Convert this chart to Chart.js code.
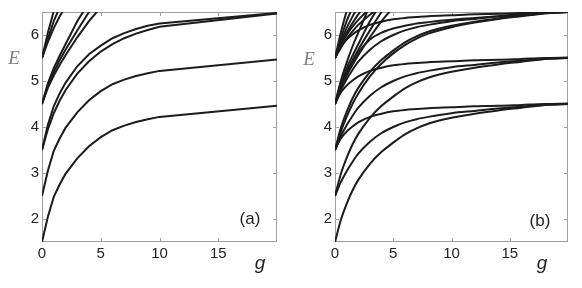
<!DOCTYPE html>
<html><head><meta charset="utf-8">
<script src="https://cdn.jsdelivr.net/npm/chart.js@4.4.1/dist/chart.umd.min.js"></script>
<style>
html,body{margin:0;padding:0;background:#fff;}
#wrap{position:relative;width:582px;height:288px;overflow:hidden;}
canvas{position:absolute;top:0;}
#ca{left:0;} #cb{left:290px;}
</style></head><body>
<div id="wrap"><canvas id="ca" width="290" height="288"></canvas><canvas id="cb" width="292" height="288"></canvas></div>
<script>
// ---- tick labels ----
const xTickValues = [0, 5, 10, 15];
const yTickValues = [2, 3, 4, 5, 6];

// ---- panel (a): g grid and energy levels ----
const gA = [0, 0.5, 1, 1.5, 2, 3, 4, 5, 6, 7, 8, 9, 10, 20];
const a1 = [1.5, 2.05, 2.48, 2.75, 2.98, 3.32, 3.58, 3.78, 3.93, 4.03, 4.11, 4.17, 4.22, 4.46];
const a2 = [2.5, 3.05, 3.48, 3.75, 3.98, 4.32, 4.58, 4.78, 4.93, 5.03, 5.11, 5.17, 5.22, 5.47];
const a3 = [3.5, 4.05, 4.45, 4.73, 4.96, 5.32, 5.58, 5.77, 5.93, 6.04, 6.13, 6.2, 6.25, 6.48];
const a4 = [3.5, 3.95, 4.3, 4.57, 4.8, 5.16, 5.43, 5.64, 5.8, 5.93, 6.03, 6.11, 6.18, 6.47];
const a5 = [4.5, 4.95, 5.28, 5.55, 5.8, 6.3, 6.7];
const a6 = [4.5, 4.9, 5.2, 5.45, 5.68, 6.1, 6.5, 6.8];
const a7 = [4.5, 4.85, 5.12, 5.35, 5.56, 5.95, 6.3, 6.6];
const a8 = [5.5, 6.05, 6.52, 6.9];
const a9 = [5.5, 5.92, 6.3, 6.6];
const a10 = [5.5, 5.85, 6.15, 6.4, 6.62];

// ---- panel (b): g grid and energy levels ----
const gB = [0, 0.5, 1, 1.5, 2, 3, 4, 5, 6, 7, 8, 10, 12, 14, 16, 18, 20];
const bA1 = [1.5, 1.98, 2.33, 2.62, 2.85, 3.2, 3.46, 3.66, 3.84, 3.97, 4.07, 4.2, 4.29, 4.36, 4.42, 4.48, 4.5];
const bA2 = [2.5, 2.8, 3.04, 3.24, 3.42, 3.68, 3.87, 4.0, 4.1, 4.17, 4.22, 4.3, 4.35, 4.4, 4.44, 4.48, 4.5];
const bA3 = [3.5, 3.75, 3.9, 4.01, 4.1, 4.22, 4.29, 4.34, 4.37, 4.39, 4.41, 4.43, 4.45, 4.46, 4.48, 4.5, 4.51];
const bB1 = [2.5, 2.98, 3.33, 3.62, 3.85, 4.2, 4.46, 4.66, 4.84, 4.97, 5.07, 5.2, 5.29, 5.36, 5.42, 5.48, 5.5];
const bB2 = [3.5, 3.8, 4.04, 4.24, 4.42, 4.68, 4.87, 5.0, 5.1, 5.17, 5.22, 5.3, 5.35, 5.4, 5.44, 5.48, 5.5];
const bB3 = [4.5, 4.75, 4.9, 5.01, 5.1, 5.22, 5.29, 5.34, 5.37, 5.39, 5.41, 5.43, 5.45, 5.46, 5.48, 5.5, 5.51];
const bC1 = [3.5, 3.98, 4.33, 4.62, 4.85, 5.2, 5.46, 5.66, 5.84, 5.97, 6.07, 6.2, 6.29, 6.36, 6.42, 6.48, 6.5];
const bC2 = [4.5, 4.8, 5.04, 5.24, 5.42, 5.68, 5.87, 6.0, 6.1, 6.17, 6.22, 6.3, 6.35, 6.4, 6.44, 6.48, 6.5];
const bC3 = [5.5, 5.75, 5.9, 6.01, 6.1, 6.22, 6.29, 6.34, 6.37, 6.39, 6.41, 6.43, 6.45, 6.46, 6.48, 6.5, 6.51];
const bC4 = [3.5, 3.9, 4.22, 4.5, 4.73, 5.1, 5.38, 5.6, 5.78, 5.92, 6.03, 6.17, 6.27, 6.35, 6.41, 6.47, 6.5];
const bC5 = [4.5, 4.88, 5.18, 5.42, 5.62, 5.9, 6.05, 6.14, 6.2, 6.25, 6.28, 6.33, 6.37, 6.41, 6.45, 6.48, 6.5];
const bD1 = [4.5, 4.95, 5.28, 5.55, 5.8, 6.3, 6.7];
const bD2 = [4.5, 4.9, 5.2, 5.45, 5.68, 6.1, 6.5, 6.8];
const bD3 = [4.5, 4.85, 5.12, 5.35, 5.56, 5.95, 6.3, 6.6];
const bD4 = [4.5, 5.0, 5.4, 5.75, 6.05, 6.65];
const bE1 = [5.5, 6.05, 6.52, 6.9];
const bE2 = [5.5, 5.92, 6.3, 6.6];
const bE3 = [5.5, 5.85, 6.15, 6.4, 6.62];
const bE4 = [5.5, 5.8, 6.05, 6.26, 6.45, 6.75];
const bE5 = [5.5, 5.78, 6.0, 6.18, 6.33, 6.58];
const bE6 = [5.5, 5.72, 5.92, 6.08, 6.22, 6.44, 6.62];

const seriesA = [a1, a2, a3, a4, a5, a6, a7, a8, a9, a10];
const seriesB = [bA1, bA2, bA3, bB1, bB2, bB3, bC1, bC2, bC3, bC4, bC5,
                 bD1, bD2, bD3, bD4, bE1, bE2, bE3, bE4, bE5, bE6];

const frame = {
  id: 'frame',
  beforeDatasetsDraw(chart) {
    const {ctx, chartArea: a, scales: {x, y}} = chart;
    ctx.save();
    ctx.strokeStyle = '#a0a0a0';
    ctx.lineWidth = 1;
    ctx.strokeRect(a.left + 0.5, a.top + 0.5, a.right - a.left - 1, a.bottom - a.top - 1);
    ctx.beginPath();
    yTickValues.forEach(v => {
      const py = Math.round(y.getPixelForValue(v)) + 0.5;
      ctx.moveTo(a.left, py); ctx.lineTo(a.left + 4, py);
      ctx.moveTo(a.right, py); ctx.lineTo(a.right - 4, py);
    });
    xTickValues.slice(1).forEach(v => {
      const px = Math.round(x.getPixelForValue(v)) + 0.5;
      ctx.moveTo(px, a.bottom); ctx.lineTo(px, a.bottom - 4);
      ctx.moveTo(px, a.top); ctx.lineTo(px, a.top + 4);
    });
    ctx.stroke();
    ctx.restore();
  },
  afterDraw(chart, args, o) {
    const ctx = chart.ctx;
    ctx.save();
    ctx.textAlign = 'center';
    ctx.textBaseline = 'middle';
    ctx.fillStyle = '#808080';
    ctx.font = 'italic 19px "Liberation Serif"';
    ctx.fillText('E', o.ex, o.ey);
    ctx.fillStyle = '#1e1e1e';
    ctx.font = 'italic 19px "Liberation Sans"';
    ctx.fillText('g', o.gx, o.gy);
    ctx.font = '17px "Liberation Sans"';
    ctx.fillText(o.label, o.lx, o.ly);
    ctx.restore();
  }
};

function makeChart(id, grid, series, smooth, box, deco) {
  const datasets = series.map(s => ({
    data: s.map((v, i) => ({x: grid[i], y: v})),
    borderColor: '#1c1c1c',
    borderWidth: 2,
    pointRadius: 0,
    fill: false,
    tension: 0,
    cubicInterpolationMode: smooth ? 'monotone' : 'default',
    clip: 0
  }));
  return new Chart(document.getElementById(id), {
    type: 'line',
    data: {datasets},
    plugins: [frame],
    options: {
      responsive: false,
      animation: false,
      devicePixelRatio: 1,
      layout: {padding: {left: 0, right: box.R, top: box.T, bottom: 0}},
      plugins: {legend: {display: false}, tooltip: {enabled: false}, frame: deco},
      scales: {
        x: {
          type: 'linear', min: 0, max: 20,
          grid: {display: false, drawTicks: false},
          border: {display: false},
          afterBuildTicks: s => { s.ticks = xTickValues.map(v => ({value: v})); },
          afterFit: s => { s.height = box.H; },
          ticks: {padding: 3, color: '#222', font: {family: 'Liberation Sans', size: 15}, maxRotation: 0}
        },
        y: {
          type: 'linear', min: 1.5, max: 6.5,
          grid: {display: false, drawTicks: false},
          border: {display: false},
          afterBuildTicks: s => { s.ticks = yTickValues.map(v => ({value: v})); },
          afterFit: s => { s.width = box.L; },
          ticks: {padding: 3, color: '#222', font: {family: 'Liberation Sans', size: 15}}
        }
      }
    }
  });
}

makeChart('ca', gA, seriesA, false, {L: 42, R: 13, T: 8, H: 46},
  {ex: 14, ey: 59, gx: 260, gy: 264, label: '(a)', lx: 250, ly: 219});
makeChart('cb', gB, seriesB, true, {L: 45, R: 14, T: 8, H: 46},
  {ex: 19, ey: 60, gx: 252, gy: 264, label: '(b)', lx: 250, ly: 221});
</script>
</body></html>
